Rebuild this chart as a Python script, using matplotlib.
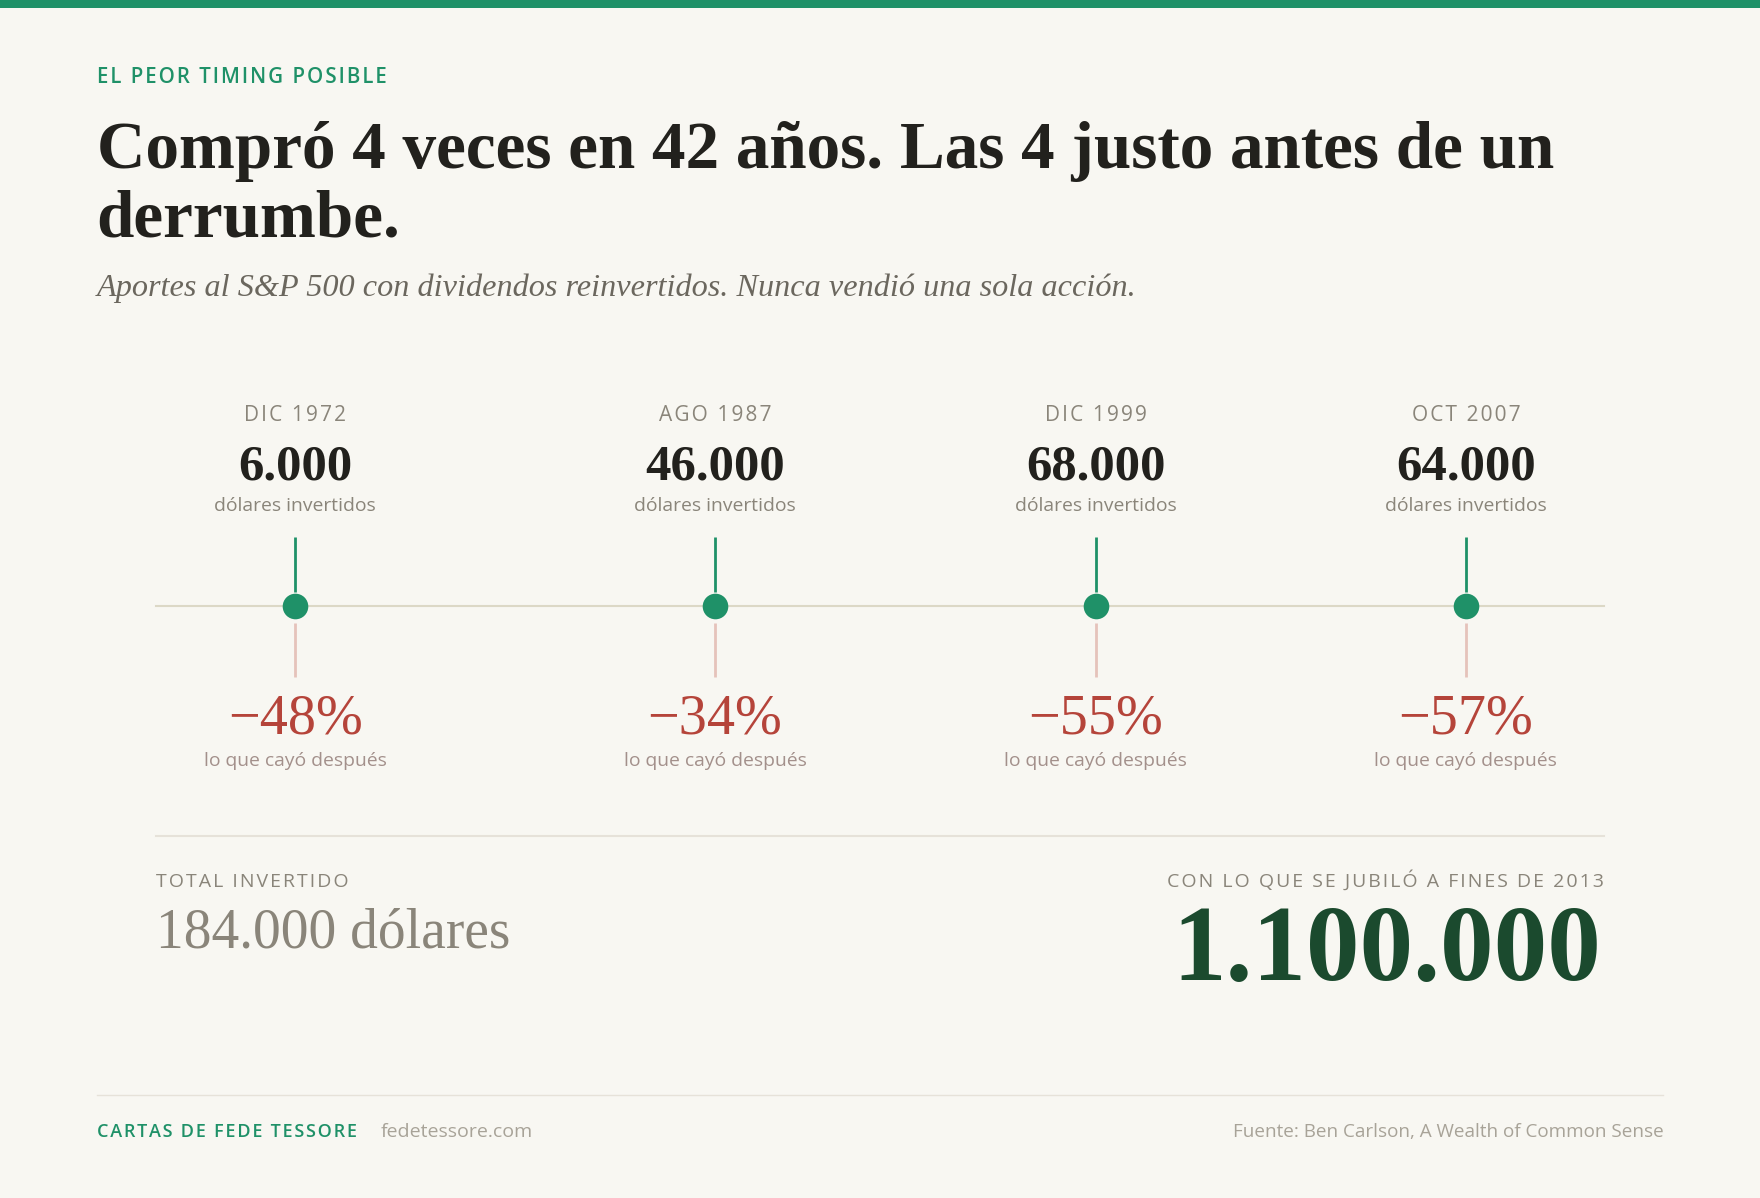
import matplotlib
matplotlib.use("Agg")
import matplotlib.pyplot as plt

# data
fechas = ["DIC 1972", "AGO 1987", "DIC 1999", "OCT 2007"]
invertido = ["6.000", "46.000", "68.000", "64.000"]
caidas = ["\u221248%", "\u221234%", "\u221255%", "\u221257%"]
total_invertido = "184.000 dólares"
total_final = "1.100.000"

# layout (canvas units, 1568 x 1067)
W, H = 1568, 1067
slot_x = [263, 637, 976, 1306]
line_x0, line_x1 = 139, 1429

BG = "#f8f7f2"
GREEN = "#1f9168"
DARK = "#22211d"
GRAY = "#8a857a"
RED = "#b5443a"
PINK = "#e5c3bb"
PINKGRAY = "#a3908b"
DKGREEN = "#1b4a2e"
LIGHT = "#a8a398"

SERIF = ["Liberation Serif", "DejaVu Serif"]
SANS = ["Open Sans", "DejaVu Sans"]


def spaced(s, sp="\u200a"):
    return sp.join(s)


fig = plt.figure(figsize=(17.6, 11.98), dpi=100, facecolor=BG)
ax = fig.add_axes([0, 0, 1, 1])
ax.set_xlim(0, W)
ax.set_ylim(H, 0)
ax.axis("off")
ax.set_facecolor(BG)

# top bar
ax.axhspan(0, 7, color=GREEN, lw=0)

# header
ax.text(86, 74, spaced("EL PEOR TIMING POSIBLE"), color=GREEN, fontsize=14.8,
        family=SANS, weight="semibold", va="baseline")
ax.text(86, 150, "Compró 4 veces en 42 años. Las 4 justo antes de un", color=DARK,
        fontsize=48.3, family=SERIF, weight="bold", va="baseline")
ax.text(86, 211, "derrumbe.", color=DARK, fontsize=48.3, family=SERIF,
        weight="bold", va="baseline")
ax.text(86, 264, "Aportes al S&P 500 con dividendos reinvertidos. Nunca vendió una sola acción.",
        color="#6b675e", fontsize=23.2, family=SERIF, style="italic", va="baseline")

# timeline
ax.plot([line_x0, line_x1], [540, 540], color="#dcd8c6", lw=1.5, zorder=1)
ax.vlines(slot_x, 478, 527, color=GREEN, lw=2, zorder=2)
ax.vlines(slot_x, 555, 603, color=PINK, lw=2, zorder=2)
ax.scatter(slot_x, [540] * len(slot_x), s=340, color=GREEN, zorder=3, lw=0)

for x, f, v, c in zip(slot_x, fechas, invertido, caidas):
    ax.text(x, 375, spaced(f), ha="center", va="baseline", color=GRAY,
            fontsize=15, family=SANS)
    ax.text(x, 427, v, ha="center", va="baseline", color=DARK, fontsize=36.5,
            family=SERIF, weight="bold")
    ax.text(x, 455, "dólares invertidos", ha="center", va="baseline", color=GRAY,
            fontsize=13.9, family=SANS)
    ax.text(x, 653, c, ha="center", va="baseline", color=RED, fontsize=40.5,
            family=SERIF)
    ax.text(x, 682, "lo que cayó después", ha="center", va="baseline",
            color=PINKGRAY, fontsize=13.9, family=SANS)

# totals
ax.plot([line_x0, line_x1], [745, 745], color="#e6e2d9", lw=1.5)
ax.text(139, 790, spaced("TOTAL INVERTIDO"), color=GRAY, fontsize=14,
        family=SANS, va="baseline")
ax.text(139, 844, total_invertido, color=GRAY, fontsize=40, family=SERIF,
        va="baseline")
ax.text(1429, 790, spaced("CON LO QUE SE JUBILÓ A FINES DE 2013"), color=GRAY,
        fontsize=14, family=SANS, va="baseline", ha="right")
ax.text(1427, 873, total_final, color=DKGREEN, fontsize=77, family=SERIF,
        weight="bold", va="baseline", ha="right")

# footer
ax.plot([86, 1482], [975, 975], color="#e6e2d9", lw=1)
ax.text(86, 1013, spaced("CARTAS DE FEDE TESSORE"), color=GREEN, fontsize=13,
        family=SANS, weight="semibold", va="baseline")
ax.text(339, 1013, "fedetessore.com", color=LIGHT, fontsize=14, family=SANS,
        va="baseline")
ax.text(1482, 1013, "Fuente: Ben Carlson, A Wealth of Common Sense", color=LIGHT,
        fontsize=13.6, family=SANS, va="baseline", ha="right")

fig.savefig("out.png", dpi=100, facecolor=BG)
